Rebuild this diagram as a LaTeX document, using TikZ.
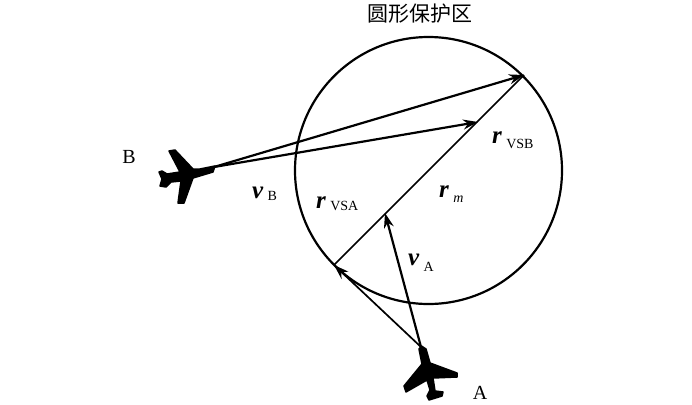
\documentclass[tikz,border=0pt]{standalone}
\usepackage{fontspec}
\setmainfont{Liberation Serif}
\newfontfamily\cjk{Noto Sans CJK SC}
\usetikzlibrary{arrows.meta}
\tikzset{
 tip/.style={-{Stealth[length=15pt,width=10pt]}},
 vec/.style={line width=2.2pt,tip},
 seg/.style={line width=1.7pt},
 lab/.style={inner sep=0pt,font=\fontsize{25}{27}\selectfont},
 plane/.style={fill=black,draw=black,line width=1.5pt,line join=round}
}
\newcommand{\subsz}{\fontsize{14}{15}\selectfont}
\begin{document}
\begin{tikzpicture}[x=1pt,y=-1pt]
\useasboundingbox (0,0) rectangle (692,404);
\coordinate (O) at (428.5,170.5);
\coordinate (T) at (524,75);
\coordinate (Q) at (334,265);
\coordinate (S) at (385,213);
\coordinate (R) at (478,122);
\coordinate (NA) at (421,347);
\coordinate (NB) at (214,167);
\draw[line width=2.2pt] (O) circle (133.5);
\draw[seg] (Q) -- (T);
\draw[vec] (NB) -- (T);
\draw[vec] (NB) -- (R);
\draw[vec] (NA) -- (S);
\draw[seg,tip] (NA) -- (Q);
% plane B
\fill[plane] (215,166) -- (200,169) -- (193,169) -- (175,150) -- (169,151) -- (180,172) -- (167,174) -- (162,171) -- (159,172) -- (162,179) -- (160,186) -- (166,187) -- (171,182) -- (181,181) -- (178,203) -- (184,203) -- (193,178) -- (213,172) -- cycle;
% plane A
\fill[plane] (421.5,346) -- (419,349) -- (422,364) -- (404,386) -- (406,392) -- (427,380) -- (430,390) -- (427,396) -- (429,400) -- (442,396) -- (443,392) -- (435,391) -- (433,378) -- (457,377) -- (457,373) -- (430,363) -- (426,349) -- cycle;
\node[lab,anchor=base] (title) at (420,22) {\cjk\fontsize{21}{23}\selectfont 圆形保护区};
\node[lab,anchor=base] (lB) at (129,163) {\fontsize{20}{22}\selectfont B};
\node[lab,anchor=base] (lA) at (480,399) {\fontsize{20}{22}\selectfont A};
\node[lab,anchor=base west] (vB) at (252,198) {\textbf{\textit{v}}\,\raisebox{-2pt}{\subsz B}};
\node[lab,anchor=base west] (vA) at (408,265) {\textbf{\textit{v}}\,\raisebox{-6pt}{\subsz A}};
\node[lab,anchor=base west] (rA) at (316,208) {\textbf{\textit{r}}\,\raisebox{-2pt}{\subsz VSA}};
\node[lab,anchor=base west] (rB) at (492,143) {\textbf{\textit{r}}\,\raisebox{-5pt}{\subsz VSB}};
\node[lab,anchor=base west] (rm) at (439,197) {\textbf{\textit{r}}\,\raisebox{-5pt}{\subsz\textit{m}}};
\end{tikzpicture}
\end{document}
